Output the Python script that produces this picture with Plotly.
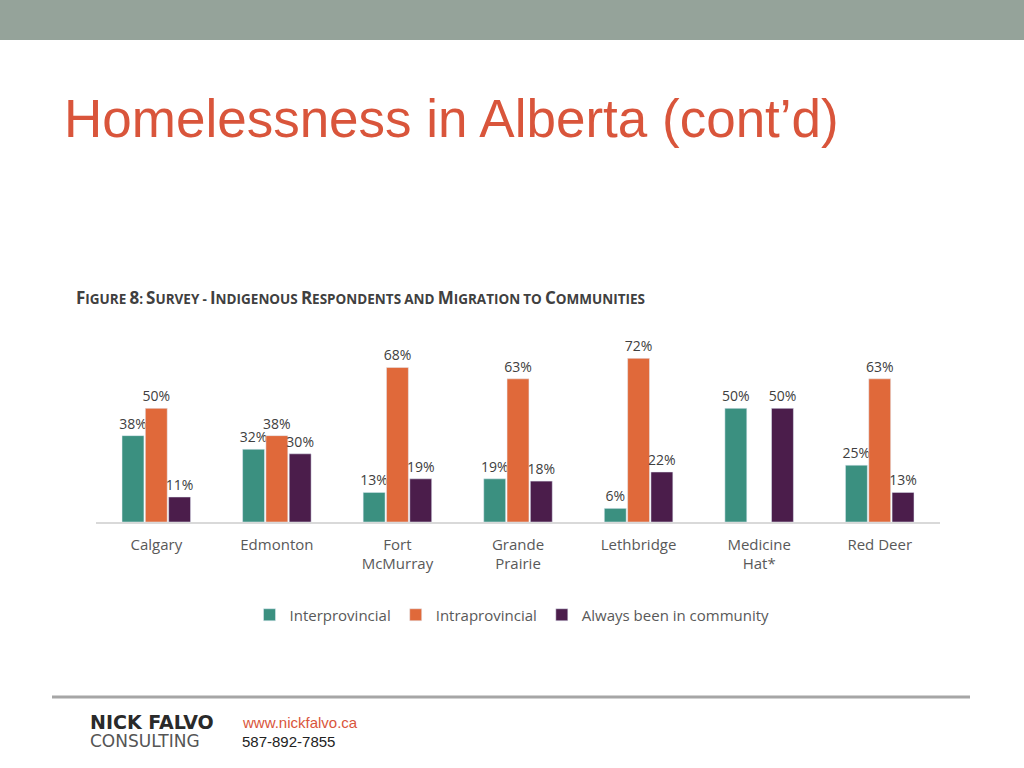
import plotly.graph_objects as go

categories = ["Calgary", "Edmonton", "Fort<br>McMurray", "Grande<br>Prairie", "Lethbridge", "Medicine<br>Hat*", "Red Deer"]
interprovincial = [38, 32, 13, 19, 6, 50, 25]
intraprovincial = [50, 38, 68, 63, 72, None, 63]
always = [11, 30, 19, 18, 22, 50, 13]
series = [("Interprovincial", interprovincial, "#3b9080"),
          ("Intraprovincial", intraprovincial, "#e0693a"),
          ("Always been in community", always, "#4b1d4b")]

fig = go.Figure()
for name, vals, col in series:
    fig.add_trace(go.Bar(
        x=categories, y=vals, name=name, marker_color=col,
        text=[f"{v}%" if v is not None else "" for v in vals],
        textposition="outside", cliponaxis=False, constraintext="none",
        textfont=dict(family="Open Sans", size=14, color="#404040")))

def sc(big, small):
    return f"<span style='font-size:17px'>{big}</span><span style='font-size:13.5px'>{small}</span>"
fig_title = (sc("F", "IGURE") + " " + sc("8", ":") + " " + sc("S", "URVEY") + " " + sc("", "-") + " "
             + sc("I", "NDIGENOUS") + " " + sc("R", "ESPONDENTS") + " " + sc("", "AND") + " "
             + sc("M", "IGRATION") + " " + sc("", "TO") + " " + sc("C", "OMMUNITIES"))

fig.update_layout(
    width=1024, height=768, margin=dict(l=0, r=0, t=0, b=0),
    paper_bgcolor="white", plot_bgcolor="white",
    barmode="group", bargap=0.42, bargroupgap=0.06,
    uniformtext=dict(mode=False),
    xaxis=dict(domain=[96/1024, 940/1024], showgrid=False, showline=True,
               linecolor="#d9d9d9", linewidth=1.5, ticks="", ticklabelstandoff=8,
               tickfont=dict(family="Open Sans", size=15, color="#595959")),
    yaxis=dict(domain=[1-522/768, 1-322/768], range=[0, 88], visible=False),
    showlegend=True,
    legend=dict(orientation="h", x=0.5, xanchor="center", y=1-615/768, yanchor="middle",
                font=dict(family="Open Sans", size=15, color="#595959"),
                itemwidth=30, tracegroupgap=0),
    shapes=[
        dict(type="rect", xref="paper", yref="paper", x0=0, x1=1, y0=1-40/768, y1=1,
             fillcolor="#95a39a", line_width=0),
        dict(type="line", xref="paper", yref="paper", x0=52/1024, x1=970/1024,
             y0=1-697/768, y1=1-697/768, line=dict(color="#a6a6a6", width=3)),
    ],
    annotations=[
        dict(text="Homelessness in Alberta (cont’d)", xref="paper", yref="paper",
             x=62/1024, y=1-118/768, xanchor="left", yanchor="middle", showarrow=False,
             font=dict(family="Liberation Sans", size=53, color="#d9553b")),
        dict(text="<b>" + fig_title + "</b>", xref="paper", yref="paper",
             x=74/1024, y=1-297/768, xanchor="left", yanchor="middle", showarrow=False,
             font=dict(family="Open Sans", color="#404040")),
        dict(text="<b>NICK FALVO</b>", xref="paper", yref="paper", x=88/1024, y=1-722/768,
             xanchor="left", yanchor="middle", showarrow=False,
             font=dict(family="DejaVu Sans", size=19, color="#2a2a2a")),
        dict(text="CONSULTING", xref="paper", yref="paper", x=88/1024, y=1-741/768,
             xanchor="left", yanchor="middle", showarrow=False,
             font=dict(family="DejaVu Sans", size=17, color="#555555")),
        dict(text="www.nickfalvo.ca", xref="paper", yref="paper", x=240/1024, y=1-722/768,
             xanchor="left", yanchor="middle", showarrow=False,
             font=dict(family="Liberation Sans", size=15, color="#d9553b")),
        dict(text="587-892-7855", xref="paper", yref="paper", x=240/1024, y=1-741/768,
             xanchor="left", yanchor="middle", showarrow=False,
             font=dict(family="Liberation Sans", size=15, color="#222222")),
    ],
)
fig.write_html("out.html", config={"displayModeBar": False})
with open("out.html", encoding="utf-8") as f:
    html = f.read()
html = html.replace("<body>", "<body style=\"margin:0;overflow:hidden\">", 1)
with open("out.html", "w", encoding="utf-8") as f:
    f.write(html)
